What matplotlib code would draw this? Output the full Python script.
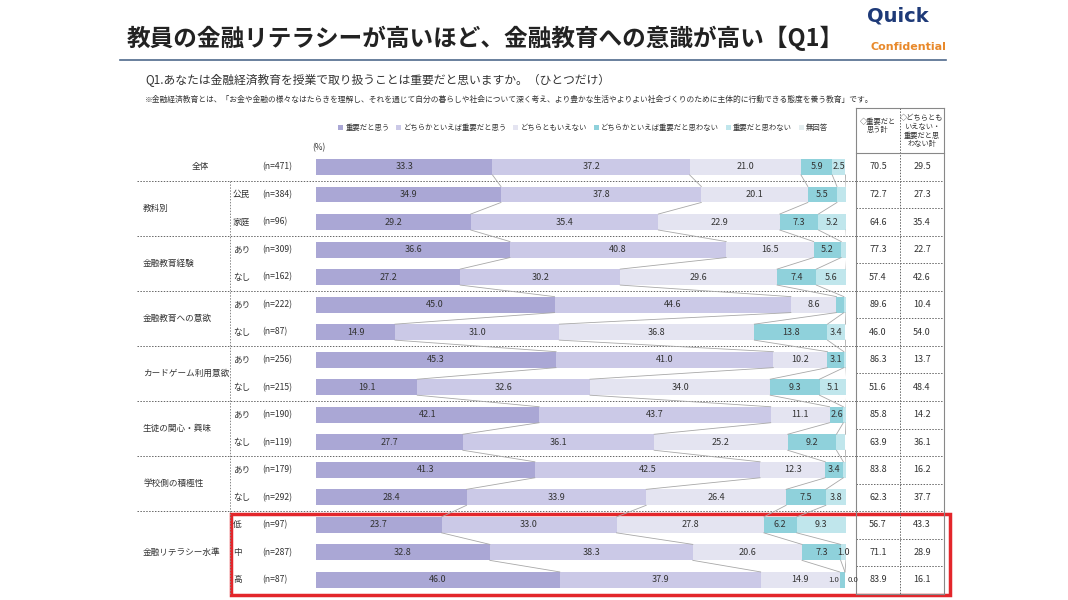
import matplotlib.pyplot as plt
import matplotlib.transforms as mtransforms
from matplotlib.patches import Rectangle
import numpy as np

plt.rcParams['font.family'] = ['Noto Sans CJK JP', 'DejaVu Sans']

categories = ['重要だと思う', 'どちらかといえば重要だと思う', 'どちらともいえない',
              'どちらかといえば重要だと思わない', '重要だと思わない', '無回答']
colors = ['#aaa7d5', '#cbc9e7', '#e4e4f1', '#8fd1db', '#c0e6ec', '#e4eef0']

group_names = ['全体', '教科別', '金融教育経験', '金融教育への意欲', 'カードゲーム利用意欲',
               '生徒の関心・興味', '学校側の積極性', '金融リテラシー水準']
group_sizes = [1, 2, 2, 2, 2, 2, 2, 3]
sub_labels = ['', '公民', '家庭', 'あり', 'なし', 'あり', 'なし', 'あり', 'なし',
              'あり', 'なし', 'あり', 'なし', '低', '中', '高']
n_labels = ['(n=471)', '(n=384)', '(n=96)', '(n=309)', '(n=162)', '(n=222)', '(n=87)',
            '(n=256)', '(n=215)', '(n=190)', '(n=119)', '(n=179)', '(n=292)',
            '(n=97)', '(n=287)', '(n=87)']

values = np.array([
    [33.3, 37.2, 21.0, 5.9, 2.5, 0.0],
    [34.9, 37.8, 20.1, 5.5, 1.7, 0.0],
    [29.2, 35.4, 22.9, 7.3, 5.2, 0.0],
    [36.6, 40.8, 16.5, 5.2, 1.0, 0.0],
    [27.2, 30.2, 29.6, 7.4, 5.6, 0.0],
    [45.0, 44.6, 8.6, 1.4, 0.4, 0.0],
    [14.9, 31.0, 36.8, 13.8, 3.4, 0.0],
    [45.3, 41.0, 10.2, 3.1, 0.4, 0.0],
    [19.1, 32.6, 34.0, 9.3, 5.1, 0.0],
    [42.1, 43.7, 11.1, 2.6, 0.5, 0.0],
    [27.7, 36.1, 25.2, 9.2, 1.7, 0.0],
    [41.3, 42.5, 12.3, 3.4, 0.5, 0.0],
    [28.4, 33.9, 26.4, 7.5, 3.8, 0.0],
    [23.7, 33.0, 27.8, 6.2, 9.3, 0.0],
    [32.8, 38.3, 20.6, 7.3, 1.0, 0.0],
    [46.0, 37.9, 14.9, 1.0, 0.0, 0.0],
])
total_important = [70.5, 72.7, 64.6, 77.3, 57.4, 89.6, 46.0, 86.3, 51.6,
                   85.8, 63.9, 83.8, 62.3, 56.7, 71.1, 83.9]
total_other = [29.5, 27.3, 35.4, 22.7, 42.6, 10.4, 54.0, 13.7, 48.4,
               14.2, 36.1, 16.2, 37.7, 43.3, 28.9, 16.1]

W, H = 1068, 600
fig = plt.figure(figsize=(W / 100, H / 100), dpi=100)

# background axes in pixel units
bg = fig.add_axes([0, 0, 1, 1])
bg.set_xlim(0, W)
bg.set_ylim(H, 0)
bg.set_autoscale_on(False)
bg.axis('off')

n_rows = len(sub_labels)
top_px, pitch = 153.2, 27.53
bottom_px = top_px + pitch * n_rows
ax = fig.add_axes([316 / W, 1 - bottom_px / H, (846 - 316) / W, pitch * n_rows / H])
ax.set_xlim(0, 100)
ax.set_ylim(n_rows - 0.5, -0.5)
ax.axis('off')

y = np.arange(n_rows)
bh = 0.58
left = np.zeros(n_rows)
handles = []
last_group_start = n_rows - group_sizes[-1]
for j, cat in enumerate(categories):
    b = ax.barh(y, values[:, j], left=left, height=bh, color=colors[j], label=cat)
    handles.append(b)
    for i in range(n_rows):
        v = values[i, j]
        show = v >= 2.5 or (i >= last_group_start and j < 5 and v > 0) or (i == n_rows - 1 and j == 4)
        if show:
            xpos = left[i] + v / 2
            fs = 6.5
            if i == n_rows - 1 and j >= 3:
                # the two tiny labels squeezed at the end of the bar
                xpos = left[i] + (-1.2 if j == 3 else 1.6)
                fs = 5.6
            ax.text(xpos, i, f'{v:.1f}', ha='center', va='center',
                    fontsize=fs, color='#333333')
    left = left + values[:, j]

# connector lines between bars
cum = np.cumsum(values, axis=1)
for i in range(n_rows - 1):
    for k in range(5):
        ax.plot([cum[i, k], cum[i + 1, k]], [i + bh / 2, i + 1 - bh / 2],
                color='#a8a8a8', lw=0.6)

tr = mtransforms.blended_transform_factory(bg.transData, ax.transData)

# row labels
start = 0
for gname, gsize in zip(group_names, group_sizes):
    gy = start + (gsize - 1) / 2
    if gsize == 1:
        bg.text(200, gy, gname, transform=tr, ha='center', va='center', fontsize=6.2, color='#333333')
    else:
        bg.text(143, gy, gname, transform=tr, ha='left', va='center', fontsize=6.2, color='#333333')
    start += gsize
    if start < n_rows:
        bg.plot([137, 856], [start - 0.5, start - 0.5], transform=tr, ls=(0, (1.5, 1.5)),
                color='#666666', lw=0.7)

for i in range(n_rows):
    bg.text(233, i, sub_labels[i], transform=tr, ha='left', va='center', fontsize=6.2, color='#333333')
    bg.text(262, i, n_labels[i], transform=tr, ha='left', va='center', fontsize=6.2, color='#333333')
    bg.text(878, i, f'{total_important[i]:.1f}', transform=tr, ha='center', va='center',
            fontsize=6.5, color='#333333')
    bg.text(922, i, f'{total_other[i]:.1f}', transform=tr, ha='center', va='center',
            fontsize=6.5, color='#333333')
    if i < n_rows - 1:
        bg.plot([856, 944], [i + 0.5, i + 0.5], transform=tr, ls=(0, (1.5, 1.5)),
                color='#666666', lw=0.7)

# vertical lines
bg.plot([230, 230], [0.5, n_rows - 0.5], transform=tr, ls=(0, (1.5, 1.5)), color='#888888', lw=0.7)
bg.plot([856, 856], [108, bottom_px], color='#888888', lw=0.8)
bg.plot([944, 944], [108, bottom_px], color='#888888', lw=0.8)
bg.plot([900, 900], [108, bottom_px], ls=(0, (1.5, 1.5)), color='#666666', lw=0.7)
bg.plot([856, 944], [108, 108], color='#888888', lw=0.8)
bg.plot([856, 944], [top_px, top_px], color='#888888', lw=0.8)
bg.plot([856, 944], [bottom_px, bottom_px], color='#888888', lw=0.8)
bg.text(878, 126, '◇重要だと\n思う計', ha='center', va='center', fontsize=5.2,
        color='#333333', linespacing=1.15)
bg.text(922, 131, '◇どちらとも\nいえない・\n重要だと思\nわない計', ha='center', va='center',
        fontsize=5.2, color='#333333', linespacing=1.15)
bg.text(312, 148, '(%)', ha='left', va='center', fontsize=6, color='#333333')

# legend
fig.legend(handles, categories, loc='center', bbox_to_anchor=(583 / W, 1 - 128 / H), ncol=6,
           frameon=False, fontsize=5.3, handlelength=0.7, handleheight=0.7,
           columnspacing=0.9, handletextpad=0.3, labelcolor='#333333')

# highlight box
bg.add_patch(Rectangle((231, 514), 719, 81, fill=False, ec='#e3262b', lw=2.5))

# header
bg.text(127, 38, '教員の金融リテラシーが高いほど、金融教育への意識が高い【Q1】', ha='left',
        va='center', fontsize=17, fontweight='bold', color='#222222')
bg.plot([120, 946], [60, 60], color='#4f6a8c', lw=1.2)
bg.text(898, 16, 'Quick', ha='center', va='center', fontsize=14, fontweight='heavy',
        color='#1e3a78', family=['DejaVu Sans'])
bg.text(946, 47, 'Confidential', ha='right', va='center', fontsize=8, fontweight='bold',
        color='#e8892b', family=['DejaVu Sans'])
bg.text(145, 80, 'Q1.あなたは金融経済教育を授業で取り扱うことは重要だと思いますか。（ひとつだけ）',
        ha='left', va='center', fontsize=8.5, color='#333333')
bg.text(145, 100, '※金融経済教育とは、「お金や金融の様々なはたらきを理解し、それを通じて自分の暮らしや社会について深く考え、'
        'より豊かな生活やよりよい社会づくりのために主体的に行動できる態度を養う教育」です。',
        ha='left', va='center', fontsize=5.6, color='#333333')

fig.savefig('out.png', dpi=100)
